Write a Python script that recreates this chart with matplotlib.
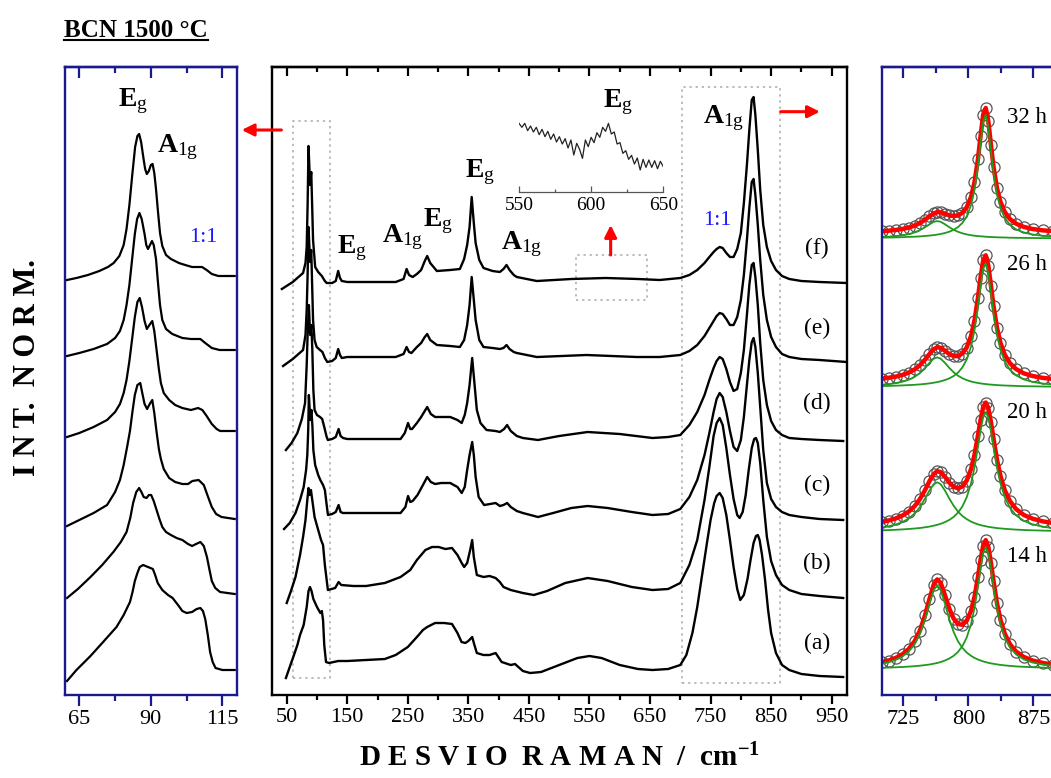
import matplotlib.pyplot as plt
from matplotlib.ticker import FixedLocator
from matplotlib.lines import Line2D
from matplotlib.patches import Rectangle

plt.rcParams['font.family'] = ['Liberation Serif', 'DejaVu Serif']
plt.rcParams['mathtext.fontset'] = 'custom'
plt.rcParams['mathtext.rm'] = 'Liberation Serif'
plt.rcParams['mathtext.bf'] = 'Liberation Serif:bold'
plt.rcParams['mathtext.it'] = 'Liberation Serif:italic'

BLUE = '#1a1a8e'
LABEL_BLUE = '#1a1aff'

# ---- middle panel: full spectra (a) .. (f), stacked, intensity in a.u.
mid_a_x = [48.7, 55, 62, 67.6, 72, 78, 83, 86, 88.4, 91,
           94, 100, 105.5, 108, 110, 112, 114.9, 120, 135, 150,
           181, 212, 230, 250, 265, 275, 282, 295, 310, 323,
           332, 338.7, 345, 350, 356.3, 360, 364, 375, 385, 395,
           405, 420, 427, 440, 452, 470, 500, 530, 550, 570,
           600, 630, 654, 680, 700, 710, 720, 728, 736, 744,
           750, 756, 760, 765, 770, 776, 782, 788, 794, 799,
           805, 811, 816, 821, 825, 828, 831, 835, 840, 845,
           850, 858, 868, 880, 900, 930, 969]
mid_a_y = [17, 28, 40, 50, 60, 70, 88, 104, 108, 104,
           96, 88, 82, 84, 75, 50, 33, 32, 34, 34,
           35, 36, 40, 48, 58, 65, 68, 72, 72, 71,
           62, 53, 52, 54, 58, 50, 42, 40, 40, 42,
           33, 30, 31, 24, 22, 23, 30, 37, 39, 37,
           30, 26, 25, 26, 30, 40, 62, 88, 120, 152,
           175, 192, 199, 202, 197, 180, 155, 128, 106, 95,
           100, 116, 135, 152, 159, 160, 155, 140, 115, 85,
           62, 42, 30, 25, 21, 19, 18]

mid_b_x = [50, 57, 64.5, 72, 77, 81, 84, 86, 88, 90,
           92, 96, 102, 106.7, 110, 113, 118, 124, 130, 135.7,
           140, 160, 181, 212, 238, 254, 265, 279, 290, 301,
           312, 323, 332, 339, 343, 348, 353, 356.3, 359, 364,
           375, 385, 395, 402, 408, 420, 440, 458, 480, 510,
           547, 580, 620, 654, 680, 700, 715, 728, 740, 748,
           755, 760, 765, 770, 776, 782, 788, 794, 798, 803,
           808, 813, 818, 822, 825, 828, 832, 837, 843, 850,
           858, 868, 880, 900, 930, 969]
mid_b_y = [92, 104, 118, 140, 158, 175, 195, 207, 200, 205,
           196, 178, 165, 155, 150, 130, 105, 106, 107, 113,
           110, 109, 109, 112, 118, 125, 135, 145, 148, 148,
           146, 147, 140, 132, 128, 132, 145, 155, 138, 120,
           118, 119, 117, 113, 108, 105, 102, 100, 104, 112,
           117, 114, 108, 105, 106, 112, 130, 155, 195, 228,
           259, 272, 277, 270, 247, 220, 196, 180, 177, 183,
           200, 225, 247, 256, 257, 252, 232, 195, 158, 134,
           120, 110, 105, 101, 99, 97]

mid_c_x = [45.6, 55, 64.5, 72, 78, 82, 84, 85.5, 86.6, 88,
           88.8, 90.8, 92.5, 94, 97, 102, 105.5, 110, 113, 116,
           118.1, 125, 131, 135.7, 139, 143, 150, 238, 246, 250.4,
           254, 258, 266, 275, 282, 288, 295, 305, 320, 332,
           339, 344, 348, 352, 356.3, 359, 362, 367, 376, 386,
           395, 402, 408, 414, 420, 430, 440, 465, 490, 520,
           547, 580, 620, 654, 680, 700, 715, 728, 740, 748,
           755, 760, 765, 770, 776, 782, 788, 794, 800, 805,
           810, 814, 818, 821, 824, 828, 832, 837, 843, 850,
           858, 868, 880, 900, 930, 969]
mid_c_y = [166, 172, 182, 195, 208, 225, 240, 265, 300, 285,
           275, 285, 268, 245, 230, 220, 215, 210, 205, 190,
           180, 181, 183, 190, 183, 182, 182, 182, 188, 199,
           193, 194, 200, 210, 218, 213, 211, 212, 212, 208,
           202, 208, 225, 240, 253, 240, 218, 198, 190, 191,
           192, 189, 190, 192, 188, 184, 182, 178, 182, 187,
           189, 187, 183, 180, 181, 186, 198, 215, 240, 262,
           283, 296, 302, 298, 283, 264, 248, 244, 255, 278,
           310, 335, 353, 357, 348, 322, 288, 245, 212, 196,
           188, 183, 180, 178, 176, 175]

mid_d_x = [48.7, 58, 67.6, 75, 80.3, 83, 84.5, 86.6, 88, 88.8,
           90.8, 92.3, 94, 96, 100, 105, 108.6, 112, 116, 118,
           125, 131, 135.7, 139, 143, 150, 238, 245, 250.4, 254,
           257, 265, 272, 282, 288, 295, 310, 320, 332, 339,
           344, 348, 352, 356.3, 360, 364, 370, 380, 395, 402,
           409, 414, 420, 430, 440, 465, 500, 547, 600, 654,
           680, 700, 715, 728, 740, 748, 755, 760, 765, 770,
           776, 782, 788, 794, 800, 805, 810, 814, 818, 821,
           824, 828, 832, 837, 843, 850, 858, 868, 880, 900,
           930, 969]
mid_d_y = [245, 252, 262, 276, 292, 330, 360, 390, 370, 360,
           370, 345, 305, 285, 280, 278, 276, 268, 258, 255,
           256, 258, 266, 259, 257, 256, 256, 262, 272, 266,
           266, 272, 278, 288, 281, 278, 278, 278, 275, 272,
           280, 292, 310, 337, 312, 285, 272, 265, 264, 263,
           266, 270, 264, 259, 257, 255, 259, 263, 261, 257,
           258, 260, 270, 283, 300, 315, 327, 334, 338, 336,
           326, 313, 304, 306, 322, 345, 380, 410, 430, 432,
           418, 390, 352, 315, 290, 274, 265, 260, 257, 256,
           255, 254]

mid_e_x = [44, 60, 77, 81, 83, 84.5, 86, 88.6, 90.5, 92,
           93.5, 96, 99.5, 105, 109, 113, 117, 125, 131, 135,
           138, 141, 150, 230, 243, 248, 252, 256, 265, 272,
           278, 282, 287, 298, 320, 336, 343, 348, 352, 355.5,
           359, 362, 368, 375, 390, 402, 408, 413, 418, 425,
           430, 463, 545, 628, 666, 700, 715, 728, 740, 748,
           755, 760, 765, 770, 776, 782, 788, 794, 800, 805,
           810, 814, 818, 821, 824, 828, 832, 837, 843, 850,
           858, 868, 880, 900, 930, 975]
mid_e_y = [329, 336, 345, 360, 385, 420, 468, 433, 445, 410,
           375, 355, 348, 345, 343, 337, 333, 334, 337, 346,
           340, 337, 338, 338, 341, 348, 343, 342, 348, 352,
           358, 361, 355, 350, 349, 348, 355, 370, 390, 418,
           395, 375, 355, 348, 347, 346, 347, 350, 346, 343,
           342, 338, 340, 338, 338, 340, 344, 350, 359, 367,
           374, 379, 382, 381, 376, 370, 370, 378, 395, 420,
           455, 487, 513, 516, 500, 470, 435, 400, 375, 358,
           348, 341, 338, 336, 335, 333]

mid_f_x = [42, 60, 77, 81, 83, 84.5, 86, 88.6, 90.5, 92,
           93.5, 97, 102, 108, 113, 116, 125, 131, 135, 138,
           141, 150, 230, 243, 248, 252, 258, 265, 272, 278,
           282, 287, 298, 320, 336, 343, 348, 352, 355.5, 359,
           362, 368, 375, 390, 402, 408, 413, 418, 425, 430,
           463, 520, 577, 630, 666, 700, 715, 728, 740, 748,
           755, 760, 765, 770, 776, 782, 788, 794, 800, 805,
           810, 814, 818, 821, 824, 828, 832, 837, 843, 850,
           858, 868, 880, 900, 930, 975]
mid_f_y = [406, 413, 422, 432, 448, 490, 549, 510, 523, 490,
           455, 428, 423, 419, 414, 412, 412, 414, 424, 417,
           414, 413, 413, 416, 426, 420, 418, 421, 425, 434,
           439, 432, 424, 425, 426, 436, 450, 468, 498, 472,
           452, 435, 427, 424, 423, 426, 430, 425, 420, 418,
           414, 416, 417, 416, 415, 417, 420, 425, 432, 438,
           443, 446, 448, 447, 442, 438, 438, 446, 462, 492,
           530, 565, 595, 598, 580, 545, 505, 470, 448, 434,
           425, 419, 416, 414, 413, 412]

curve_labels = ['(a)', '(b)', '(c)', '(d)', '(e)', '(f)']

# ---- inset: weak E_g band 550-650 cm-1
inset_x = [550, 552, 554, 556, 558, 560, 562, 564, 566, 568,
           570, 572, 574, 576, 578, 580, 582, 584, 586, 588,
           590, 592, 594, 596, 598, 600, 602, 604, 606, 608,
           610, 612, 614, 616, 618, 620, 622, 624, 626, 628,
           630, 632, 634, 636, 638, 640, 642, 644, 646, 648, 650]
inset_y = [150, 138, 150, 128, 142, 124, 138, 116, 132, 110,
           126, 102, 118, 94, 110, 88, 104, 76, 100, 55,
           90, 72, 45, 100, 80, 108, 92, 122, 108, 138,
           126, 150, 118, 124, 88, 92, 60, 68, 42, 54,
           28, 46, 10, 42, 18, 40, 18, 38, 14, 36, 20]

# ---- left panel: zoom 60-120 cm-1
left_a_x = [60.7, 64, 68.9, 73, 78, 80.5, 82.7, 83.6, 84.4, 85.3, 86.1, 87.3, 89, 90.7, 91.5, 92.4, 94,
            96, 97.6, 99.5, 101, 102.5, 104.4, 106, 107.3, 108.2, 109, 109.9, 110.7, 111.6, 112.6, 115, 119.3]
left_a_y = [14, 25, 39, 52, 68, 80, 93, 103, 114, 122, 128, 130, 128, 126, 120, 112, 105,
            100, 97, 90, 84, 82, 83, 86, 87, 84, 76, 60, 43, 33, 27, 25, 25]
left_b_x = [60.7, 64.5, 68.9, 73, 76.9, 79.5, 81.5, 82.8, 83.8, 84.9, 85.9, 86.7, 87.5, 88.5, 89.3, 90.1, 91, 92,
            93, 94, 95.3, 97, 99, 101, 103, 104.4, 105.8, 107.3, 108.5, 109.6, 110.5, 111.3, 112.5, 114.2, 119.3]
left_b_y = [97, 106, 118, 130, 143, 153, 163, 177, 192, 203, 207, 203, 198, 197, 200, 200, 194, 185,
            176, 168, 163, 160, 157, 155, 151, 149, 151, 153, 149, 138, 125, 114, 107, 103, 101]
left_c_x = [60.7, 65, 70, 74.7, 77.5, 79.2, 80.5, 81.7, 82.7, 83.6, 84.4, 85.3, 86.3, 87, 87.8, 88.7, 89.6, 90.5,
            91.2, 92, 92.8, 93.5, 94.5, 96.4, 98.5, 101, 103, 104.5, 106.7, 108.5, 110, 111.3, 112.8, 114.7, 119.3]
left_c_y = [169, 175, 182, 190, 203, 215, 230, 248, 264, 284, 300, 310, 312, 302, 291, 286, 291, 295,
            282, 263, 246, 236, 226, 217, 213, 211, 211, 214, 215, 210, 198, 188, 181, 178, 176]
left_d_x = [60.7, 65, 70, 74.7, 77.5, 79.2, 80.5, 81.5, 82.5, 83.5, 84.4, 85.3, 86.1, 86.9, 87.8, 88.6, 89.5,
            90.5, 91.2, 92, 92.8, 93.5, 94.5, 96.4, 98.5, 101, 104, 106.5, 108, 109.5, 111.3, 113, 114.2, 119.3]
left_d_y = [258, 262, 268, 275, 283, 291, 302, 315, 334, 357, 378, 393, 397, 388, 374, 366, 370,
            374, 364, 345, 326, 312, 302, 295, 290, 287, 285, 287, 285, 279, 271, 266, 264, 264]
left_e_x = [60.7, 65, 70, 74.7, 77.5, 79.2, 80.5, 81.5, 82.5, 83.5, 84.4, 85.2, 86, 86.8, 87.8, 88.4, 89,
            89.7, 90.4, 91, 91.8, 92.5, 93.2, 94, 95.3, 97.5, 101, 104, 107.3, 109, 111.3, 114, 119.3]
left_e_y = [339, 342, 346, 351, 357, 364, 375, 390, 410, 437, 461, 476, 482, 476, 461, 450, 446,
            450, 454, 450, 436, 412, 390, 375, 366, 361, 357, 356, 356, 352, 347, 345, 345]
left_f_x = [60.7, 64, 68, 72, 75, 77, 79, 80.5, 81.5, 82.5, 83.5, 84.5, 85.3, 85.9, 86.6, 87.3, 88, 88.6, 89.3,
            90, 90.6, 91.2, 91.8, 92.5, 93.2, 94, 95.3, 97, 99.8, 102, 104.4, 106, 107.9, 109.5, 111.3, 113.6, 116, 119.3]
left_f_y = [415, 417, 420, 424, 428, 432, 439, 450, 466, 490, 520, 548, 559, 561, 553, 539, 526, 521, 524,
            530, 531, 522, 506, 483, 462, 449, 440, 436, 432, 430, 428, 428, 428, 425, 421, 419, 419, 419]

# ---- right panel: A1g region fits (data, total fit, two components)
fit_shift = [700, 708, 716, 724, 731, 738, 744, 750, 755, 760, 764, 768, 773, 778, 783, 788, 793, 798,
             803, 807, 811, 814, 817, 820, 823, 826, 829, 833, 837, 842, 848, 855, 864, 874, 886, 898]
fit_hours = ['14 h', '20 h', '26 h', '32 h']

data_14 = [32.7, 34.5, 37.0, 40.8, 45.9, 53.8, 64.4, 79.7, 95.8, 110.5, 115.6, 112.2, 99.8, 86.3, 76.4, 71.0, 70.2, 74.1,
           84.2, 98.1, 118.0, 135.1, 149.4, 154.9, 148.0, 132.2, 113.7, 91.6, 75.1, 61.2, 50.7, 43.4, 38.0, 34.5, 32.0, 30.4]
g1_14 = [31.3, 32.9, 35.1, 38.6, 43.3, 50.8, 60.9, 75.6, 91.1, 105.0, 109.4, 105.0, 91.1, 75.6, 63.0, 53.7, 47.2, 42.5,
         39.2, 37.1, 35.5, 34.5, 33.6, 32.9, 32.2, 31.6, 31.2, 30.6, 30.1, 29.6, 29.1, 28.6, 28.2, 27.8, 27.4, 27.1]
g2_14 = [27.2, 27.4, 27.7, 28.0, 28.4, 28.8, 29.3, 29.9, 30.5, 31.3, 32.0, 33.0, 34.5, 36.5, 39.2, 43.1, 48.8, 57.4,
         70.8, 86.8, 108.3, 126.4, 141.6, 147.8, 141.6, 126.4, 108.3, 86.8, 70.8, 57.4, 47.4, 40.6, 35.6, 32.5, 30.4, 29.1]

data_20 = [173.1, 174.5, 176.5, 179.5, 183.3, 188.9, 195.8, 205.0, 213.7, 221.0, 223.8, 222.9, 218.2, 212.4, 208.2, 206.7, 208.5, 214.4,
           225.8, 240.2, 259.5, 275.1, 287.8, 292.5, 286.7, 273.0, 256.2, 235.2, 219.0, 204.7, 193.8, 185.9, 180.0, 176.3, 173.6, 171.9]
g1_20 = [167.5, 168.7, 170.4, 173.0, 176.4, 181.5, 187.9, 196.4, 204.4, 210.8, 212.7, 210.8, 204.4, 196.4, 189.2, 183.4, 179.1, 175.9,
         173.4, 171.9, 170.7, 169.9, 169.3, 168.7, 168.2, 167.8, 167.4, 166.9, 166.6, 166.2, 165.8, 165.4, 165.0, 164.7, 164.4, 164.2]
g2_20 = [164.7, 164.9, 165.2, 165.6, 166.0, 166.5, 167.0, 167.7, 168.4, 169.3, 170.2, 171.2, 172.9, 175.1, 178.1, 182.4, 188.5, 197.6,
         211.5, 227.4, 247.9, 264.3, 277.6, 282.9, 277.6, 264.3, 247.9, 227.4, 211.5, 197.6, 187.1, 179.6, 174.1, 170.7, 168.3, 166.8]

data_26 = [316.3, 317.2, 318.3, 320.1, 322.3, 325.6, 329.7, 335.4, 340.9, 345.8, 347.7, 347.2, 344.3, 340.9, 338.9, 338.9, 341.5, 347.5,
           359.0, 374.5, 397.2, 417.5, 434.6, 439.7, 429.1, 409.4, 388.9, 367.0, 352.1, 340.2, 331.7, 325.9, 321.6, 319.0, 317.1, 316.0]
g1_26 = [310.2, 310.9, 311.8, 313.3, 315.2, 318.2, 321.9, 327.1, 332.1, 336.3, 337.6, 336.3, 332.1, 327.1, 322.7, 319.3, 316.8, 314.9,
         313.5, 312.7, 312.0, 311.6, 311.2, 310.9, 310.6, 310.4, 310.2, 309.9, 309.7, 309.5, 309.3, 309.1, 308.8, 308.7, 308.5, 308.4]
g2_26 = [308.9, 309.1, 309.3, 309.6, 309.9, 310.2, 310.6, 311.1, 311.6, 312.3, 312.9, 313.7, 315.0, 316.6, 319.0, 322.4, 327.5, 335.4,
         348.3, 364.6, 388.0, 408.7, 426.2, 431.6, 421.3, 401.8, 381.5, 359.9, 345.2, 333.5, 325.2, 319.6, 315.6, 313.1, 311.4, 310.4]

data_32 = [463.8, 464.3, 465.0, 466.0, 467.4, 469.4, 471.9, 475.3, 478.6, 481.6, 482.8, 482.7, 481.2, 479.6, 478.9, 479.6, 482.2, 487.6,
           498.1, 512.7, 535.9, 558.9, 580.2, 587.0, 573.6, 550.2, 528.1, 506.6, 493.1, 482.9, 475.9, 471.3, 468.1, 466.0, 464.6, 463.8]
g1_32 = [457.9, 458.3, 458.9, 459.7, 460.8, 462.6, 464.8, 467.8, 470.7, 473.2, 473.9, 473.2, 470.7, 467.8, 465.2, 463.2, 461.7, 460.6,
         459.8, 459.3, 458.9, 458.7, 458.5, 458.3, 458.1, 458.0, 457.9, 457.7, 457.6, 457.5, 457.3, 457.2, 457.1, 457.0, 456.9, 456.8]
g2_32 = [457.4, 457.5, 457.6, 457.8, 458.1, 458.3, 458.6, 459.0, 459.4, 459.9, 460.4, 461.0, 462.0, 463.3, 465.2, 467.9, 472.0, 478.5,
         489.8, 504.9, 528.5, 551.7, 573.2, 580.2, 567.0, 543.7, 521.7, 500.4, 487.0, 476.9, 470.1, 465.6, 462.5, 460.5, 459.2, 458.5]


def style_frame(ax, color, major, minor, xlim, maj_len, min_len):
    ax.set_xlim(*xlim)
    ax.set_ylim(0, 628)
    ax.set_yticks([])
    for s in ax.spines.values():
        s.set_color(color)
        s.set_linewidth(1.7)
    ax.xaxis.set_major_locator(FixedLocator(major))
    ax.xaxis.set_minor_locator(FixedLocator(minor))
    ax.tick_params(axis='x', which='both', direction='out', color=color,
                   width=1.6, labelsize=16, pad=3)
    ax.tick_params(axis='x', which='major', length=maj_len)
    ax.tick_params(axis='x', which='minor', length=min_len)
    top = ax.secondary_xaxis('top')
    top.xaxis.set_major_locator(FixedLocator(major))
    top.xaxis.set_minor_locator(FixedLocator(minor))
    top.tick_params(axis='x', which='both', direction='in', color=color,
                    width=1.6, labeltop=False)
    top.tick_params(axis='x', which='major', length=maj_len)
    top.tick_params(axis='x', which='minor', length=min_len)
    top.spines['top'].set_color(color)
    top.spines['top'].set_linewidth(1.7)


def band(ax, x, y, sym, sub, size=20):
    ax.text(x, y, r'$\mathbf{%s}_{\mathrm{%s}}$' % (sym, sub), fontsize=size,
            ha='left', va='baseline')


fig = plt.figure(figsize=(10.51, 7.78), dpi=100)
ax_l = fig.add_axes([0.06185, 0.10668, 0.16337, 0.80720])
ax_m = fig.add_axes([0.25880, 0.10668, 0.54738, 0.80720])
ax_r = fig.add_axes([0.83892, 0.10668, 0.16499, 0.80720])

# left panel
for xs, ys in [(left_a_x, left_a_y), (left_b_x, left_b_y), (left_c_x, left_c_y),
               (left_d_x, left_d_y), (left_e_x, left_e_y), (left_f_x, left_f_y)]:
    ax_l.plot(xs, ys, color='black', lw=1.6)
style_frame(ax_l, BLUE, [65, 90, 115], [77.5, 102.5], (60, 120), 8, 4)
band(ax_l, 78.6, 589, 'E', 'g')
band(ax_l, 92, 543, 'A', '1g')
ax_l.text(103.2, 453, '1:1', color=LABEL_BLUE, fontsize=16, va='baseline')

# middle panel
mid = [(mid_a_x, mid_a_y), (mid_b_x, mid_b_y), (mid_c_x, mid_c_y),
       (mid_d_x, mid_d_y), (mid_e_x, mid_e_y), (mid_f_x, mid_f_y)]
for xs, ys in mid:
    ax_m.plot(xs, ys, color='black', lw=1.7)
style_frame(ax_m, 'black', list(range(50, 951, 100)), list(range(100, 951, 100)),
            (25.7, 975.8), 6.5, 3.6)
for lab, yy in zip(curve_labels, [52, 132, 210, 292, 367, 447]):
    ax_m.text(925.8, yy, lab, fontsize=17, ha='center', va='center')
band(ax_m, 132.5, 442, 'E', 'g')
band(ax_m, 206.9, 453, 'A', '1g')
band(ax_m, 275.6, 469, 'E', 'g')
band(ax_m, 344.4, 518, 'E', 'g')
band(ax_m, 403.9, 446, 'A', '1g')
band(ax_m, 572.8, 588, 'E', 'g')
band(ax_m, 737.9, 572, 'A', '1g')
ax_m.text(738, 470, '1:1', color=LABEL_BLUE, fontsize=16, va='baseline')

box = dict(fill=False, ec='#aaaaaa', lw=1.1, ls=(0, (1.5, 2.5)))
ax_m.add_patch(Rectangle((60, 16.7), 61.5, 557.6, **box))
ax_m.add_patch(Rectangle((702.2, 12.3), 162.3, 595.4, **box))
ax_m.add_patch(Rectangle((527.7, 395), 116.7, 45, **box))

arrow = dict(arrowstyle='-|>,head_length=0.6,head_width=0.3', color='red',
             lw=2.2, mutation_scale=12, shrinkA=0, shrinkB=0)
ax_m.annotate('', xy=(-24.3, 565), xytext=(41.2, 565), arrowprops=arrow,
              annotation_clip=False)
ax_m.annotate('', xy=(930.6, 583.3), xytext=(865.7, 583.3), arrowprops=arrow)
ax_m.annotate('', xy=(585, 470), xytext=(585, 440), arrowprops=arrow)

# inset
ax_i = fig.add_axes([0.4938, 0.7536, 0.1373, 0.0986])
ax_i.plot(inset_x, inset_y, color='#222222', lw=0.9)
ax_i.set_xlim(550, 650)
ax_i.set_ylim(-55, 175)
ax_i.patch.set_alpha(0)
for side in ['top', 'left', 'right']:
    ax_i.spines[side].set_visible(False)
ax_i.spines['bottom'].set_color('#555555')
ax_i.spines['bottom'].set_linewidth(0.9)
ax_i.set_yticks([])
ax_i.xaxis.set_major_locator(FixedLocator([550, 600, 650]))
ax_i.xaxis.set_minor_locator(FixedLocator([575, 625]))
ax_i.tick_params(axis='x', which='both', direction='in', color='#555555',
                 width=0.9, labelsize=14, pad=4)
ax_i.tick_params(axis='x', which='major', length=4)
ax_i.tick_params(axis='x', which='minor', length=2.5)

# right panel
fits = [(data_14, g1_14, g2_14), (data_20, g1_20, g2_20),
        (data_26, g1_26, g2_26), (data_32, g1_32, g2_32)]
for data, g1, g2 in fits:
    ax_r.plot(fit_shift, data, 'o', ms=8, mfc='none', mec='#555555', mew=0.9)
    ax_r.plot(fit_shift, data, color='#ff0000', lw=3.2)
    ax_r.plot(fit_shift, g1, color='#1f9a1f', lw=1.3)
    ax_r.plot(fit_shift, g2, color='#1f9a1f', lw=1.3)
style_frame(ax_r, BLUE, [725, 800, 875], [762.5, 837.5], (700, 900), 8, 4)
for lab, yy in zip(fit_hours, [133, 277, 425, 572]):
    ax_r.text(844.2, yy, lab, fontsize=16.5, va='baseline')

# figure texts
fig.text(64 / 1051, 1 - 37 / 778, 'BCN 1500 °C', fontsize=18, fontweight='bold',
         ha='left', va='baseline')
fig.add_artist(Line2D([64 / 1051, 208 / 1051], [1 - 40 / 778, 1 - 40 / 778],
                      color='black', lw=1.5))
fig.text(559.5 / 1051, 1 - 758 / 778,
         r'D E S V I O  R A M A N  /  cm$^{\mathbf{-1}}$',
         fontsize=21, fontweight='bold', ha='center', va='center')
fig.text(28 / 1051, 1 - 367 / 778, 'I N T.  N O R M.', fontsize=22,
         fontweight='bold', rotation=90, ha='center', va='center')

fig.savefig('out.png', dpi=100)
